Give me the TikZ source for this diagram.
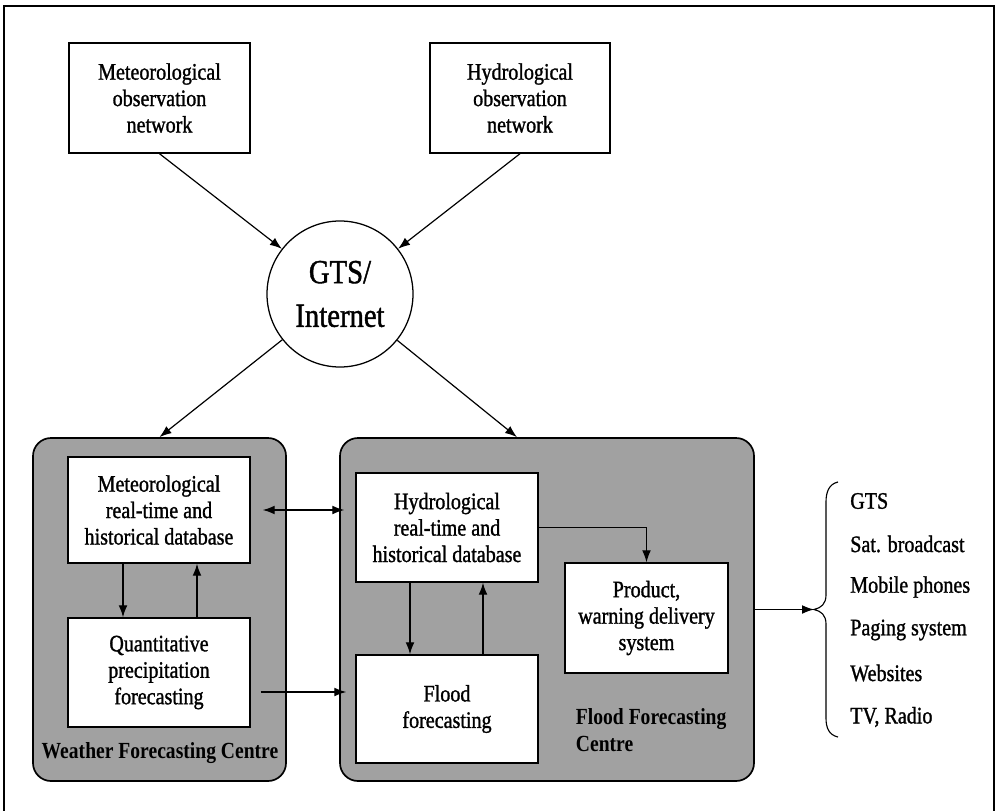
\documentclass[tikz,border=0pt]{standalone}
\usepackage{fontspec}
\setmainfont{Liberation Serif}[FakeStretch=0.85]
\newfontfamily\boxfont{Liberation Serif}[FakeStretch=0.85, FakeBold=1.2]
\usetikzlibrary{arrows.meta,calc}
\begin{document}
\begin{tikzpicture}[x=0.25mm,y=-0.25mm,
  txt/.style={font=\boxfont\fontsize{16.8}{18.8}\selectfont, align=center},
  wbox/.style={txt, draw=black, line width=1pt, fill=white, inner sep=2pt},
  gbox/.style={draw=black, line width=1.2pt, fill=black!37, rounded corners=4.5mm},
  arr/.style={line width=0.85pt, -{Latex[length=3mm,width=2.2mm]}},
  dbl/.style={line width=0.85pt, {Latex[length=3mm,width=2.2mm]}-{Latex[length=3mm,width=2.2mm]}},
  lbl/.style={font=\fontsize{16.4}{19}\selectfont\bfseries},
  item/.style={font=\boxfont\fontsize{16.8}{19}\selectfont, anchor=west, inner sep=0pt}]
\useasboundingbox (0,0) rectangle (997,811);
\draw[line width=0.9pt] (4,811) -- (4,6) -- (994,6) -- (994,811);

% top boxes
\node[wbox, minimum width=45.25mm, minimum height=27.5mm] (metobs) at (159.5,98) {Meteorological\\observation\\network};
\node[wbox, minimum width=45mm, minimum height=27.5mm] (hydobs) at (520,98) {Hydrological\\observation\\network};
\node[circle, draw=black, line width=0.9pt, minimum size=36.5mm, inner sep=0pt, align=center,
      font=\boxfont\fontsize{24}{31}\selectfont] (gts) at (340,294) {GTS/\\Internet};

% centres
\node[gbox, minimum width=63.25mm, minimum height=85.75mm] (wfc) at (159.5,609.5) {};
\node[gbox, minimum width=103.5mm, minimum height=85.75mm] (ffc) at (547,609.5) {};

\node[wbox, minimum width=45.5mm, minimum height=26.5mm] (metrt) at (159,510) {Meteorological\\real-time and\\historical database};
\node[wbox, minimum width=45.5mm, minimum height=27.25mm] (qpf) at (159,672.5) {Quantitative\\precipitation\\forecasting};
\node[wbox, minimum width=45.5mm, minimum height=27.25mm] (hydrt) at (447,527.5) {Hydrological\\real-time and\\historical database};
\node[wbox, minimum width=45.5mm, minimum height=27mm] (flood) at (447,709) {Flood\\forecasting};
\node[wbox, minimum width=40.75mm, minimum height=27.5mm] (prod) at (646.5,618) {Product,\\warning delivery\\system};

\node[lbl] (wfclbl) at (160,753) {Weather Forecasting Centre};
\node[lbl, anchor=west, align=left] (ffclbl) at (571,730) {Flood Forecasting\\Centre};

% connectors
\draw[arr] (metobs.south) -- (gts);
\draw[arr] (hydobs.south) -- (gts);
\draw[arr] (gts) -- (wfc.north);
\draw[arr] (gts) -- ($(ffc.north)+(-30,0)$);

\draw[dbl] ($(metrt.east)+(12,0)$) -- ($(metrt.east -| hydrt.west)+(-11,0)$);
\draw[arr] ($(qpf.east)+(10,19.5)$) -- ($(qpf.east -| flood.west)+(-9,19.5)$);

\draw[arr] ($(metrt.south)+(-36,0)$) -- ($(qpf.north)+(-36,0)$);
\draw[arr] ($(qpf.north)+(38,0)$) -- ($(metrt.south)+(38,0)$);
\draw[arr] ($(hydrt.south)+(-37,0)$) -- ($(flood.north)+(-37,0)$);
\draw[arr] ($(flood.north)+(36,0)$) -- ($(hydrt.south)+(36,0)$);
\draw[arr] (hydrt.east) -| (prod.north);

% output list
\coordinate (bracetip) at (814,609.5);
\draw[arr] (ffc.east) -- (bracetip);
\draw[line width=0.8pt] (838,482) .. controls (829,484) and (826,492) .. (826,502)
  -- (826,595) .. controls (826,604) and (821,608) .. (bracetip)
  .. controls (821,611) and (826,615) .. (826,624)
  -- (826,718) .. controls (826,728) and (829,735) .. (838,737);

\node[item] (i1) at (850,501) {GTS};
\node[item] (i2) at (850,544) {Sat. broadcast};
\node[item] (i3) at (850,587) {Mobile phones};
\node[item] (i4) at (850,630) {Paging system};
\node[item] (i5) at (850,673) {Websites};
\node[item] (i6) at (850,717) {TV, Radio};
\end{tikzpicture}
\end{document}
